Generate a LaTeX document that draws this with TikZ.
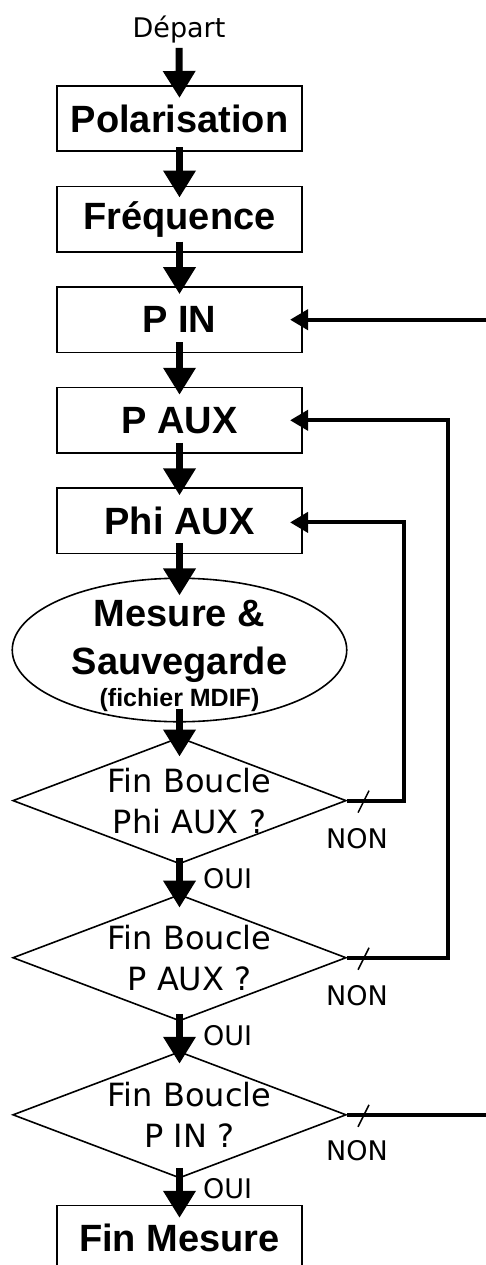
\documentclass[tikz,border=0pt]{standalone}
\usepackage{fontspec}
\setmainfont{Liberation Sans}
\newfontfamily\dejavu{DejaVu Sans}
\usepackage{tikz}
\usetikzlibrary{positioning, arrows.meta, shapes.geometric}

\begin{document}
\begin{tikzpicture}[
    x=1pt, y=1pt,
    node distance=33.5pt,
    % rectangular step boxes, bold titles
    proc/.style={draw, line width=1.6pt, minimum width=245.5pt, minimum height=65.5pt,
                 inner sep=0pt, font=\fontsize{38}{46}\selectfont\bfseries},
    % the measuring step
    measure/.style={draw, ellipse, line width=1.6pt, minimum width=334.5pt,
                    minimum height=143.5pt, inner sep=0pt},
    measuretext/.style={align=center, inner sep=0pt,
                        font=\fontsize{38}{48}\selectfont\bfseries},
    % loop tests
    decision/.style={draw, diamond, line width=1.6pt, minimum width=333.5pt,
                     minimum height=126.5pt, inner sep=0pt},
    question/.style={align=center, inner sep=0pt, font=\dejavu\fontsize{32}{41}\selectfont},
    answer/.style={inner sep=0pt, font=\dejavu\fontsize{27}{32}\selectfont},
    arrow/.style={-{Triangle[width=31pt,length=27pt]}, line width=7pt},
    loopback/.style={-{Triangle[width=20pt,length=18pt]}, line width=4pt},
    nomark/.style={line width=1.5pt}
]

\useasboundingbox (0,0) rectangle (486,-1265);

\node[answer] (depart) at (179,-30) {Départ};

\node[proc] (pol) at (179.5,-118.5) {Polarisation};
\node[proc, below=of pol] (freq) {Fréquence};
\node[proc, below=of freq] (pin) {P IN};
\node[proc, below=of pin] (paux) {P AUX};
\node[proc, below=of paux] (phiaux) {Phi AUX};

\node[measure, below=23pt of phiaux] (mesure) {};
\node[measuretext] (mesuretxt) at ([yshift=-6pt]mesure.center)
    {Mesure \&\\Sauvegarde\\[-16pt]{\fontsize{25}{28}\selectfont (fichier MDIF)}};

\node[decision, below=14pt of mesure] (d1) {};
\node[question] (q1) at ([xshift=10pt]d1.center) {Fin Boucle\\Phi AUX ?};
\node[decision, below=29pt of d1] (d2) {};
\node[question] (q2) at ([xshift=10pt]d2.center) {Fin Boucle\\P AUX ?};
\node[decision, below=29pt of d2] (d3) {};
\node[question] (q3) at ([xshift=10pt]d3.center) {Fin Boucle\\P IN ?};

\node[proc, below=26pt of d3] (fin) {Fin Mesure};

\node[answer] (non1) at ([xshift=10pt,yshift=-38pt]d1.east) {NON};
\node[answer] (non2) at ([xshift=10pt,yshift=-38pt]d2.east) {NON};
\node[answer] (non3) at ([xshift=10pt,yshift=-36pt]d3.east) {NON};
\node[answer] (oui1) at ([xshift=48pt,yshift=-14pt]d1.south) {OUI};
\node[answer] (oui2) at ([xshift=48pt,yshift=-14pt]d2.south) {OUI};
\node[answer] (oui3) at ([xshift=48pt,yshift=-10pt]d3.south) {OUI};

\coordinate (loopphi) at (404,0);
\coordinate (looppaux) at (448,0);
\coordinate (rightedge) at (486,0);
\coordinate (outpin) at (d3.east -| rightedge);
\coordinate (inpin) at (pin.east -| rightedge);

\draw[arrow] ([yshift=-4pt]depart.south) -- ([yshift=-13pt]pol.north);
\draw[arrow] ([yshift=5pt]pol.south) -- ([yshift=-12pt]freq.north);
\draw[arrow] ([yshift=11pt]freq.south) -- ([yshift=-8pt]pin.north);
\draw[arrow] ([yshift=11pt]pin.south) -- ([yshift=-8pt]paux.north);
\draw[arrow] ([yshift=11pt]paux.south) -- ([yshift=-8pt]phiaux.north);
\draw[arrow] ([yshift=11pt]phiaux.south) -- ([yshift=-18pt]mesure.north);
\draw[arrow] ([yshift=14pt]mesure.south) -- ([yshift=-20pt]d1.north);
\draw[arrow] ([yshift=7pt]d1.south) -- ([yshift=-14pt]d2.north);
\draw[arrow] ([yshift=8pt]d2.south) -- ([yshift=-13pt]d3.north);
\draw[arrow] ([yshift=11pt]d3.south) -- ([yshift=-13pt]fin.north);

\draw[loopback] (d1.east) -- (d1.east -| loopphi) |- ([xshift=-13pt,yshift=-1.5pt]phiaux.east);
\draw[loopback] (d2.east) -- (d2.east -| looppaux) |- ([xshift=-13pt]paux.east);
\draw[line width=4pt] (d3.east) -- (outpin);
\draw[loopback] (inpin) -- ([xshift=-13pt]pin.east);

\draw[nomark] ([xshift=11pt,yshift=-12pt]d1.east) -- ([xshift=22pt,yshift=10pt]d1.east);
\draw[nomark] ([xshift=11pt,yshift=-12pt]d2.east) -- ([xshift=22pt,yshift=10pt]d2.east);
\draw[nomark] ([xshift=11pt,yshift=-12pt]d3.east) -- ([xshift=22pt,yshift=10pt]d3.east);

\end{tikzpicture}
\end{document}
